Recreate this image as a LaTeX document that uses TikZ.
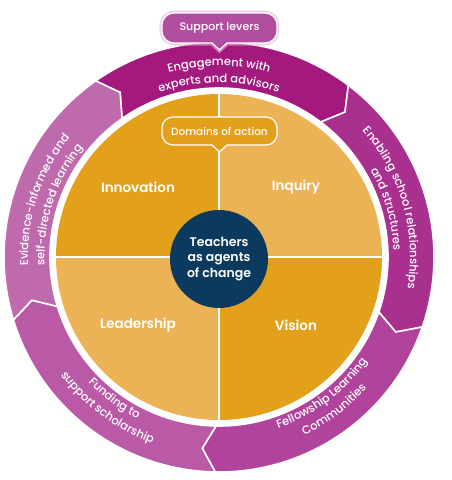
\documentclass[tikz,border=0pt]{standalone}
\usepackage{fontspec}
\setmainfont{Poppins}
\IfFontExistsTF{Poppins Medium}{\newfontfamily\medfont{Poppins Medium}}{\newcommand\medfont{\normalfont}}
\IfFontExistsTF{Poppins SemiBold}{\newfontfamily\semifont{Poppins SemiBold}}{\newcommand\semifont{\bfseries}}
\usetikzlibrary{decorations.text}
\definecolor{engage}{HTML}{A3197E}
\definecolor{enable}{HTML}{A9308F}
\definecolor{fellow}{HTML}{B0449C}
\definecolor{fund}{HTML}{BA5AA6}
\definecolor{evid}{HTML}{C06AAE}
\definecolor{orangeD}{HTML}{E3A01A}
\definecolor{orangeL}{HTML}{ECB256}
\definecolor{navy}{HTML}{0B3A5E}
\definecolor{bubble}{HTML}{B24E9F}
\definecolor{glow}{HTML}{E6B8DA}
\tikzset{
  seg/.style={fill=#1, draw=white, line width=1.6pt, line join=miter},
  domainlabel/.style={font=\fontsize{13.5}{16}\selectfont\semifont, text=white},
  bubbletext/.style={font=\fontsize{10.5}{12}\selectfont\medfont, text=white},
  ringtext/.style={decorate, decoration={text along path, text align=center, text color=white, text={|\fontsize{11.5}{14}\selectfont\medfont|#1}}},
}
\newcommand\ringseg[3]{%
  \path[seg=#1] (#2:215pt) arc[start angle=#2, end angle=#3, radius=215pt]
    -- ({#3-4}:192pt) -- (#3:169pt)
    arc[start angle=#3, end angle=#2, radius=169pt]
    -- ({#2-4}:192pt) -- cycle;}
\newcommand\cwtext[3]{%
  \path[ringtext={#3}] ({#1+70}:#2pt) arc[start angle={#1+70}, end angle={#1-70}, radius=#2pt];}
\newcommand\ccwtext[3]{%
  \path[ringtext={#3}] ({#1-70}:#2pt) arc[start angle={#1-70}, end angle={#1+70}, radius=#2pt];}
\begin{document}
\begin{tikzpicture}
\useasboundingbox (-219pt,-223pt) rectangle (233pt,257pt);
% ring segments
\ringseg{engage}{125}{53}
\ringseg{enable}{53}{-19}
\ringseg{fellow}{-19}{-91}
\ringseg{fund}{-91}{-163}
\ringseg{evid}{197}{125}
% ring texts
\cwtext{90}{191}{Engagement with}
\cwtext{90}{174.5}{experts and advisors}
\cwtext{16}{191}{Enabling school relationships}
\cwtext{16}{174.5}{and structures}
\cwtext{162}{191}{Evidence-informed and}
\cwtext{162}{174.5}{self-directed learning}
\ccwtext{-53}{181}{Fellowship Learning}
\ccwtext{-53}{197.5}{Communities}
\ccwtext{-126.5}{181}{Funding to}
\ccwtext{-126.5}{197.5}{support scholarship}
% quadrants
\fill[orangeL] (0,0) -- (0:163pt) arc[start angle=0, end angle=90, radius=163pt] -- cycle;
\fill[orangeD] (0,0) -- (90:163pt) arc[start angle=90, end angle=180, radius=163pt] -- cycle;
\fill[orangeL] (0,0) -- (180:163pt) arc[start angle=180, end angle=270, radius=163pt] -- cycle;
\fill[orangeD] (0,0) -- (270:163pt) arc[start angle=270, end angle=360, radius=163pt] -- cycle;
\draw[white, line width=2pt] (90:164pt) -- (270:164pt);
\draw[white, line width=2pt] (180:164pt) -- (0:164pt);
% centre
\node[circle, fill=navy, minimum size=98pt, inner sep=0pt, align=center, text=white,
  font=\fontsize{12.5}{15.5}\selectfont\semifont] (core) at (0,-2pt) {Teachers\\as agents\\of change};
\node[domainlabel] (innovation) at (-81pt,70pt) {Innovation};
\node[domainlabel] (inquiry) at (77pt,70pt) {Inquiry};
\node[domainlabel] (leadership) at (-81pt,-68pt) {Leadership};
\node[domainlabel] (vision) at (77pt,-68pt) {Vision};
% domains bubble
\draw[fill=orangeD, draw=white, line width=1.2pt] (-7pt,112pt) -- (0.5pt,105pt) -- (8pt,112pt)
  [rounded corners=11pt] -- (58pt,112pt) -- (58pt,140pt) -- (-57pt,140pt) -- (-57pt,112pt) [sharp corners] -- cycle;
\node[bubbletext] (domains) at (0.5pt,126pt) {Domains of action};
% support bubble
\draw[glow, line width=5pt, opacity=0.6] (-7pt,214pt) -- (0.5pt,207pt) -- (8pt,214pt)
  [rounded corners=12pt] -- (58pt,214pt) -- (58pt,244pt) -- (-57pt,244pt) -- (-57pt,214pt) [sharp corners] -- cycle;
\draw[fill=bubble, draw=white, line width=1.2pt] (-7pt,214pt) -- (0.5pt,207pt) -- (8pt,214pt)
  [rounded corners=12pt] -- (58pt,214pt) -- (58pt,244pt) -- (-57pt,244pt) -- (-57pt,214pt) [sharp corners] -- cycle;
\node[bubbletext, font=\fontsize{11}{13}\selectfont\medfont] (support) at (0.5pt,229pt) {Support levers};
\end{tikzpicture}
\end{document}
